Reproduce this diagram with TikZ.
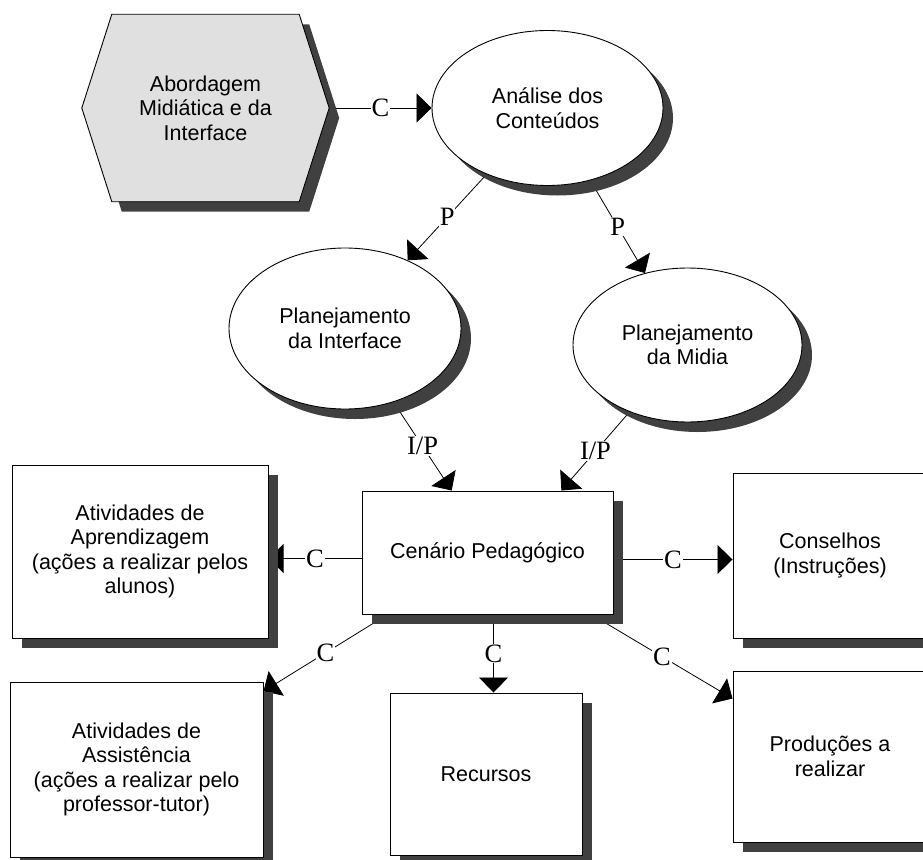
\documentclass[tikz,border=0pt]{standalone}
\usepackage{fontspec}
\setmainfont{Liberation Sans}
\newfontfamily\seriflabel{Liberation Serif}
\usetikzlibrary{shapes.geometric,shadows,arrows.meta}

\definecolor{shadowgray}{HTML}{404040}
\definecolor{hexgray}{HTML}{E0E0E0}

\pgfdeclarelayer{links}
\pgfdeclarelayer{hexlayer}
\pgfsetlayers{links,hexlayer,main}

% outline of the hexagon around node (hex), shifted by #1 right and down
\newcommand{\hexpath}[1]{%
  ([shift={(30+#1,#1)}]hex.north west) -- ([shift={(-30+#1,#1)}]hex.north east) --
  ([shift={(#1,#1)}]hex.east) -- ([shift={(-30+#1,#1)}]hex.south east) --
  ([shift={(30+#1,#1)}]hex.south west) -- ([shift={(#1,#1)}]hex.west) -- cycle}

\tikzset{
  nodetext/.style={font=\fontsize{21.5pt}{24.5pt}\selectfont, align=center, inner sep=0pt},
  boxshadow/.style={drop shadow={shadow xshift=10pt, shadow yshift=-10pt, fill=shadowgray, opacity=1}},
  oval/.style={nodetext, ellipse, draw, line width=0.9pt, fill=white, boxshadow},
  card/.style={nodetext, rectangle, draw, line width=1pt, fill=white, boxshadow},
  hexbox/.style={nodetext, rectangle, minimum width=247pt, minimum height=187pt},
  link/.style={line width=0.8pt, -{Triangle[length=15pt,width=29pt]}},
  tag/.style={font=\seriflabel\fontsize{26.5pt}{28pt}\selectfont, fill=white, inner sep=1pt}
}

\begin{document}
\begin{tikzpicture}[x=1pt, y=-1pt]
\useasboundingbox (0,0) rectangle (923,859);

% hexagon (text node plus its drawn outline and shadow)
\node[hexbox] (hex) at (205.5,108) {Abordagem\\Midiática e da\\Interface};
\begin{pgfonlayer}{hexlayer}
  \fill[shadowgray] \hexpath{10};
  \filldraw[fill=hexgray, draw=black, line width=0.9pt] \hexpath{0};
\end{pgfonlayer}

% ellipses
\node[oval, minimum width=231pt, minimum height=155pt] (ana) at (547.5,108) {Análise dos\\Conteúdos};
\node[oval, minimum width=232pt, minimum height=161pt] (plani) at (345,328.5) {Planejamento\\da Interface};
\node[oval, minimum width=229pt, minimum height=154pt] (planm) at (687.5,345) {Planejamento\\da Midia};

% rectangles
\node[card, minimum width=251pt, minimum height=123pt] (cen) at (487.5,552.5) {Cenário Pedagógico};
\node[card, minimum width=256pt, minimum height=173pt] (apr) at (140,551.5) {Atividades de\\Aprendizagem\\(ações a realizar pelos\\alunos)};
\node[card, minimum width=194pt, minimum height=165pt] (con) at (830,555.5) {Conselhos\\(Instruções)};
\node[card, minimum width=253pt, minimum height=175pt] (ass) at (136.5,769.5) {Atividades de\\Assistência\\(ações a realizar pelo\\professor-tutor)};
\node[card, minimum width=192pt, minimum height=162pt] (rec) at (486,774) {Recursos};
\node[card, minimum width=194pt, minimum height=171pt] (pro) at (830,756.5) {Produções a\\realizar};

% connectors, kept beneath the shapes
\begin{pgfonlayer}{links}
  \draw[link] (hex) -- node[tag]{C} (ana);
  \draw[link] (ana) -- node[tag]{P} (plani);
  \draw[link] (ana) -- node[tag]{P} (planm);
  \draw[link] (plani) -- node[tag]{I/P} (cen.120);
  \draw[link] (planm) -- node[tag]{I/P} (cen.40);
  \draw[link] ([yshift=-6pt]cen.west) -- node[tag]{C} ([yshift=-6pt]cen.west -| apr.east);
  \draw[link] ([yshift=-7pt]cen.east) -- node[tag]{C} ([yshift=-7pt]cen.east -| con.west);
  \draw[link] (cen) -- node[tag]{C} (ass);
  \draw[link] ([xshift=6pt]cen.south) -- node[tag]{C} ([xshift=6pt]cen.south |- rec.north);
  \draw[link] (cen) -- node[tag]{C} (pro);
\end{pgfonlayer}
\end{tikzpicture}
\end{document}
